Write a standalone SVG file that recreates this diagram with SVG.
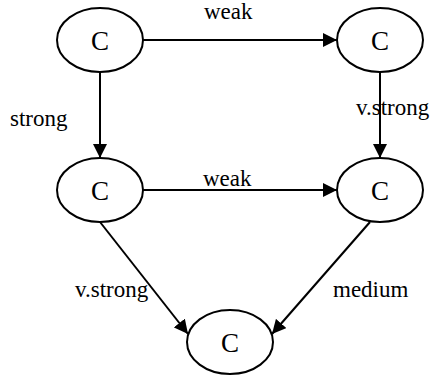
<svg xmlns="http://www.w3.org/2000/svg" width="432" height="377" viewBox="0 0 432 377">
<defs>
<style>
.node ellipse{fill:#fff;stroke:#000;stroke-width:2}
.node text{font-family:'Liberation Serif','Times New Roman',Times,serif;font-size:27px;text-anchor:middle}
.edges line{stroke:#000;stroke-width:2;marker-end:url(#ah)}
text.lbl{font-family:'Liberation Serif','Times New Roman',Times,serif;font-size:23px}
</style>
<marker id="ah" viewBox="0 0 10 10" refX="10" refY="5" markerWidth="7" markerHeight="7" markerUnits="strokeWidth" orient="auto">
<path d="M0,0 L10,5 L0,10 z" fill="#000"/>
</marker>
</defs>
<rect width="432" height="377" fill="#fff"/>
<g id="edges" class="edges">
<line x1="143" y1="40" x2="337" y2="40"/>
<line x1="100" y1="72" x2="100" y2="158"/>
<line x1="380" y1="72" x2="380" y2="158"/>
<line x1="143" y1="190" x2="337" y2="190"/>
<line x1="100" y1="222" x2="188" y2="334"/>
<line x1="370" y1="222" x2="272" y2="334"/>
</g>
<g id="labels">
<text class="lbl" x="204" y="19">weak</text>
<text class="lbl" x="10" y="126">strong</text>
<text class="lbl" x="356" y="115">v.strong</text>
<text class="lbl" x="203" y="186">weak</text>
<text class="lbl" x="75" y="297">v.strong</text>
<text class="lbl" x="333" y="297">medium</text>
</g>
<g id="n1" class="node"><ellipse cx="100" cy="40" rx="43" ry="32"/><text x="100" y="50">C</text></g>
<g id="n2" class="node"><ellipse cx="380" cy="40" rx="43" ry="32"/><text x="380" y="50">C</text></g>
<g id="n3" class="node"><ellipse cx="100" cy="190" rx="43" ry="32"/><text x="100" y="200">C</text></g>
<g id="n4" class="node"><ellipse cx="380" cy="190" rx="43" ry="32"/><text x="380" y="200">C</text></g>
<g id="n5" class="node"><ellipse cx="230" cy="342" rx="43" ry="32"/><text x="230" y="352">C</text></g>
</svg>
